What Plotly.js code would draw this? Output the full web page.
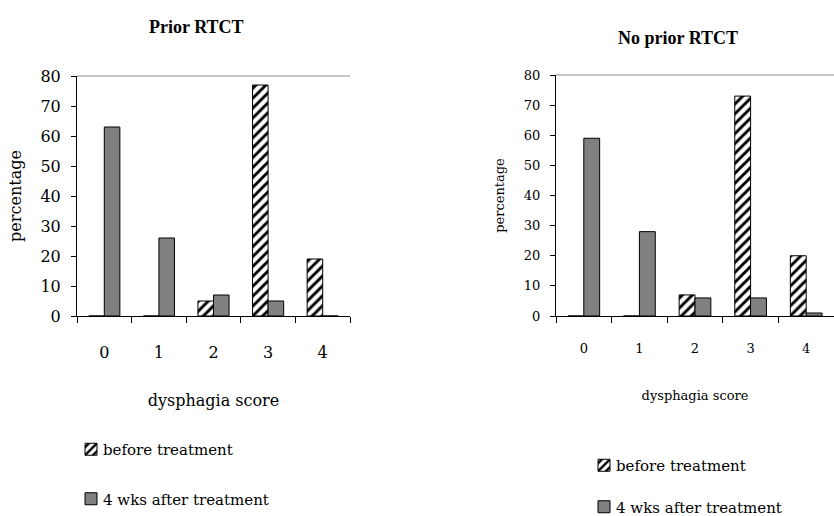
<!DOCTYPE html>
<html>
<head>
<meta charset="utf-8">
<script src="https://cdn.plot.ly/plotly-3.0.1.min.js"></script>
<style>
  html, body { margin: 0; padding: 0; background: #fff; }
  #chart { width: 834px; height: 516px; }
  /* pull the legend labels closer to their swatches */
  #chart text.legendtext, #chart text.legend2text { transform: translateX(-8px); }
</style>
</head>
<body>
<div id="chart"></div>
<script>
// Dysphagia score distribution, before and 4 weeks after treatment
const scores = ['0', '1', '2', '3', '4'];
const priorBefore = [0, 0, 5, 77, 19];
const priorAfter = [63, 26, 7, 5, 0];
const noPriorBefore = [0, 0, 7, 73, 20];
const noPriorAfter = [59, 28, 6, 6, 1];
const seriesNames = ['before treatment', '4 wks after treatment'];
const panelTitles = ['Prior RTCT', 'No prior RTCT'];
const yTicks = [0, 10, 20, 30, 40, 50, 60, 70, 80];

const serif = 'DejaVu Serif, serif';
const titleSerif = 'Liberation Serif, serif';
const W = 834, H = 516;
const px = v => v / W;
const py = v => 1 - v / H;

const hatch = {
  type: 'bar',
  marker: {
    color: '#ffffff',
    line: { color: '#000000', width: 1 },
    pattern: { shape: '/', fgcolor: '#000000', bgcolor: '#ffffff', size: 7, solidity: 0.42 }
  }
};
const grey = {
  type: 'bar',
  marker: { color: '#808080', line: { color: '#000000', width: 1 } }
};

const traces = [
  Object.assign({}, hatch, { x: scores, y: priorBefore, name: seriesNames[0], xaxis: 'x', yaxis: 'y', legend: 'legend', legendgroup: 'a' }),
  Object.assign({}, grey, { x: scores, y: priorAfter, name: seriesNames[1], xaxis: 'x', yaxis: 'y', legend: 'legend', legendgroup: 'b' }),
  Object.assign({}, hatch, { x: scores, y: noPriorBefore, name: seriesNames[0], xaxis: 'x2', yaxis: 'y2', legend: 'legend2', legendgroup: 'c' }),
  Object.assign({}, grey, { x: scores, y: noPriorAfter, name: seriesNames[1], xaxis: 'x2', yaxis: 'y2', legend: 'legend2', legendgroup: 'd' })
];

function xAxis(domain, size, standoff, titleStandoff) {
  return {
    domain: domain,
    type: 'category',
    range: [-0.5, 4.5],
    showline: true, linecolor: '#000', linewidth: 1,
    ticks: 'outside', tickson: 'boundaries', ticklen: 6, tickcolor: '#000', tickwidth: 1,
    ticklabelstandoff: standoff,
    showgrid: false, zeroline: false,
    tickfont: { family: serif, size: size, color: '#000' },
    title: { text: 'dysphagia score', font: { family: serif, size: size, color: '#000' }, standoff: titleStandoff }
  };
}
function yAxis(domain, anchor, size, standoff, titleStandoff) {
  return {
    domain: domain,
    anchor: anchor,
    range: [0, 80],
    tickvals: yTicks,
    showline: true, linecolor: '#000', linewidth: 1,
    ticks: 'outside', ticklen: 5, tickcolor: '#000', tickwidth: 1,
    ticklabelstandoff: standoff,
    showgrid: false, zeroline: false,
    tickfont: { family: serif, size: size, color: '#000' },
    title: { text: 'percentage', font: { family: serif, size: size, color: '#000' }, standoff: titleStandoff }
  };
}

const layout = {
  width: W, height: H,
  margin: { l: 0, r: 0, t: 0, b: 0, autoexpand: false },
  paper_bgcolor: '#fff', plot_bgcolor: '#fff',
  barmode: 'group', bargap: 0.43, bargroupgap: 0,
  font: { family: serif, color: '#000' },
  xaxis: Object.assign(xAxis([px(77), px(350)], 16, 22, 33), { anchor: 'y' }),
  yaxis: yAxis([py(316), py(76)], 'x', 16, 7, 14),
  xaxis2: Object.assign(xAxis([px(556), 1], 13, 20, 36), { anchor: 'y2' }),
  yaxis2: yAxis([py(316), py(75)], 'x2', 13, 7, 16),
  legend: {
    x: px(71), y: py(433), xanchor: 'left', yanchor: 'top',
    bgcolor: 'rgba(0,0,0,0)', tracegroupgap: 27,
    font: { family: serif, size: 15, color: '#000' }
  },
  legend2: {
    x: px(584), y: py(449), xanchor: 'left', yanchor: 'top',
    bgcolor: 'rgba(0,0,0,0)', tracegroupgap: 19,
    font: { family: serif, size: 15, color: '#000' }
  },
  shapes: [
    { type: 'line', xref: 'x domain', yref: 'y domain', x0: 0, x1: 1, y0: 1, y1: 1, line: { color: '#8c8c8c', width: 1 } },
    { type: 'line', xref: 'x2 domain', yref: 'y2 domain', x0: 0, x1: 1, y0: 1, y1: 1, line: { color: '#8c8c8c', width: 1 } }
  ],
  annotations: [
    { text: '<b>' + panelTitles[0] + '</b>', xref: 'paper', yref: 'paper', x: px(196), y: py(27),
      xanchor: 'center', yanchor: 'middle', showarrow: false,
      font: { family: titleSerif, size: 18, color: '#000' } },
    { text: '<b>' + panelTitles[1] + '</b>', xref: 'paper', yref: 'paper', x: px(678), y: py(38),
      xanchor: 'center', yanchor: 'middle', showarrow: false,
      font: { family: titleSerif, size: 18, color: '#000' } }
  ]
};

Plotly.newPlot('chart', traces, layout, { staticPlot: true, displayModeBar: false });
</script>
</body>
</html>
